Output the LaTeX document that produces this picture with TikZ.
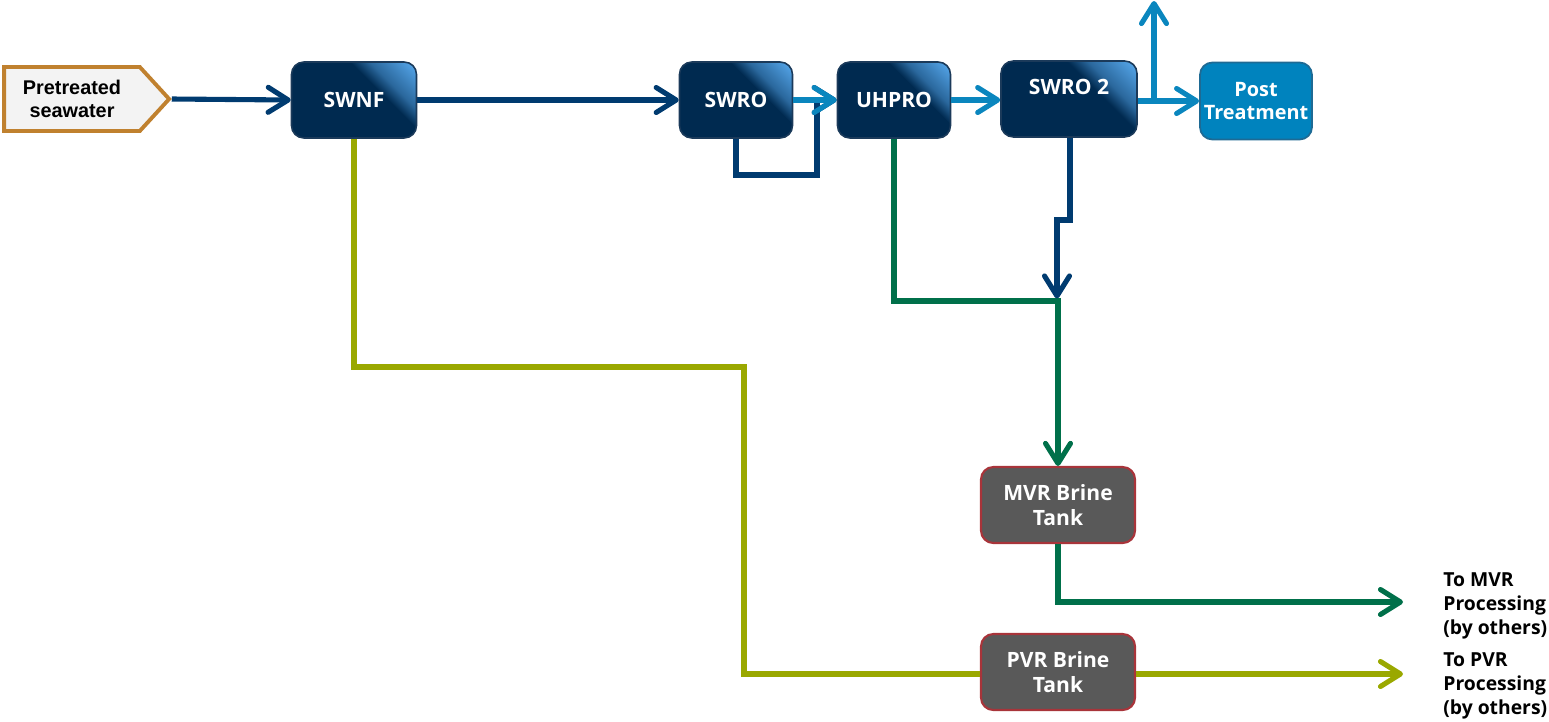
\documentclass[tikz,border=0pt]{standalone}
\usepackage{fontspec}
\setmainfont{Open Sans}
\newfontfamily\feedfont{Liberation Sans}
\usetikzlibrary{arrows.meta, positioning, shapes.symbols}
\definecolor{unitDark}{HTML}{002A50}
\definecolor{unitLight}{HTML}{55A6EA}
\definecolor{unitEdge}{HTML}{1B3A5A}
\colorlet{unitMid}{unitDark!50!unitLight}
\definecolor{navyLine}{HTML}{003B70}
\definecolor{blueLine}{HTML}{0A86BE}
\definecolor{greenLine}{HTML}{00704A}
\definecolor{oliveLine}{HTML}{9AA800}
\definecolor{feedEdge}{HTML}{C0812F}
\definecolor{feedFill}{HTML}{F3F3F3}
\definecolor{postFill}{HTML}{0083BE}
\definecolor{postEdge}{HTML}{1E6A94}
\definecolor{tankFill}{HTML}{595959}
\definecolor{tankEdge}{HTML}{A8343A}
\pgfdeclarehorizontalshading{unitshade}{100bp}{color(0bp)=(unitDark); color(62bp)=(unitDark); color(69bp)=(unitMid); color(84bp)=(unitLight); color(100bp)=(unitLight)}

\begin{document}
\begin{tikzpicture}[
    x=0.02cm, y=-0.02cm,
    font=\bfseries\fontsize{12}{14}\selectfont,
    >={Straight Barb[length=4mm, width=5mm, round]},
    flow/.style={line width=2.9pt, ->},
    pipe/.style={line width=2.9pt},
    unitbox/.style={rounded corners=7pt, draw=unitEdge, line width=0.9pt, shading=unitshade, shading angle=45, text=white, minimum height=1.52cm, align=center},
    postbox/.style={rounded corners=7pt, draw=postEdge, line width=1pt, fill=postFill, text=white, inner xsep=1pt, minimum width=2.24cm, minimum height=1.54cm, align=center, font=\bfseries\fontsize{11.3}{13.5}\selectfont},
    tankbox/.style={rounded corners=7pt, draw=tankEdge, line width=1.2pt, fill=tankFill, text=white, minimum width=3.08cm, minimum height=1.52cm, align=center},
    feednode/.style={signal, signal to=east, signal pointer angle=95, draw=feedEdge, line width=2.2pt, fill=feedFill, minimum width=3.3cm, minimum height=1.28cm, align=center, font=\feedfont\bfseries\fontsize{11.3}{13}\selectfont},
    outlabel/.style={align=left, inner sep=0pt, anchor=west, font=\bfseries\fontsize{11}{13.5}\selectfont}
]
\useasboundingbox (0,0) rectangle (1549,721);

% --- process units ---
\node[feednode] (feed) at (72,99) {Pretreated\\seawater};
\node[unitbox, minimum width=2.5cm] (swnf) at (354,100) {SWNF};
\node[unitbox, minimum width=2.26cm] (swro) at (736,100) {SWRO};
\node[unitbox, minimum width=2.26cm] (uhpro) at (894,100) {UHPRO};
\node[unitbox, minimum width=2.72cm] (swro2) at (1069,99) {SWRO 2\\\mbox{}};
\node[postbox] (post) at (1256,101) {Post\\Treatment};

% --- brine tanks ---
\node[tankbox] (mvr) at (1058,505) {MVR Brine\\Tank};
\node[tankbox] (pvr) at (1058,672) {PVR Brine\\Tank};

\node[outlabel] (mvrtxt) at (1443,606) {To MVR\\Processing\\(by others)};
\node[outlabel] (pvrtxt) at (1443,686) {To PVR\\Processing\\(by others)};

% --- helper points ---
\coordinate (recyc) at (817,175);
\coordinate (vent) at (1154,1);
\coordinate (jogA) at (1070,220);
\coordinate (jogB) at (1057,220);
\coordinate (mix) at (1058,301);
\coordinate (nfbend) at (744,367);
\coordinate (mvrout) at (1403,602);
\coordinate (pvrout) at (1403,674);

% --- main line ---
\draw[flow, navyLine] (feed.east) -- (swnf.west);
\draw[flow, navyLine] (swnf) -- (swro);
\draw[flow, navyLine] (swro.south) |- (recyc) |- (uhpro.west);
\draw[flow, blueLine] (swro) -- (uhpro);
\draw[flow, blueLine] (uhpro) -- (uhpro -| swro2.west);
\draw[flow, blueLine] (swro2.east |- post) -- (post.west);
\draw[flow, blueLine] (vent |- post) -- (vent);

% --- brine lines ---
\draw[flow, greenLine] (uhpro.south) |- (mix) -- (mvr.north);
\draw[flow, navyLine] (swro2.south -| jogA) -- (jogA) -- (jogB) -- ([yshift=0.05cm]jogB |- mix);
\draw[flow, greenLine] (mvr.south) |- (mvrout);
\draw[pipe, oliveLine] (swnf.south) |- (nfbend) |- (pvr.west |- pvrout);
\draw[flow, oliveLine] (pvr.east |- pvrout) -- (pvrout);

\end{tikzpicture}
\end{document}
